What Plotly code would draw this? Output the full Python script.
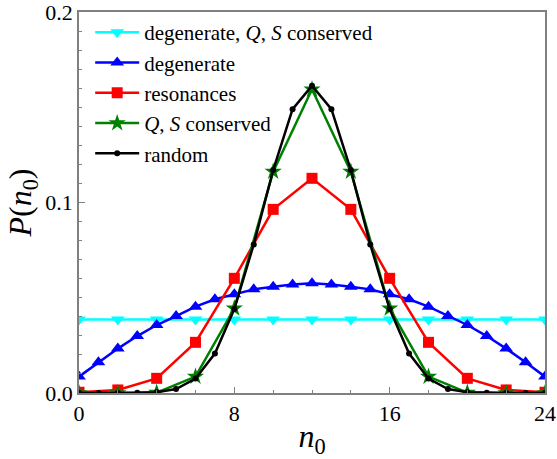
import plotly.graph_objects as go

n_every1 = list(range(0, 25))
n_every2 = list(range(0, 25, 2))

cyan_vals = [0.0386] * 13
blue_vals = [0.0086, 0.0161, 0.0233, 0.0299, 0.0357, 0.0404, 0.0453, 0.0492, 0.0518, 0.0544, 0.0558, 0.0570, 0.0576,
             0.0570, 0.0558, 0.0544, 0.0518, 0.0492, 0.0453, 0.0404, 0.0357, 0.0299, 0.0233, 0.0161, 0.0086]
red_vals = [0.0004, 0.0016, 0.0077, 0.0266, 0.0602, 0.0964, 0.1127, 0.0964, 0.0602, 0.0266, 0.0077, 0.0016, 0.0004]
green_vals = [0.0000, 0.0000, 0.0002, 0.0086, 0.0444, 0.1162, 0.1594, 0.1162, 0.0444, 0.0086, 0.0002, 0.0000, 0.0000]
black_vals = [0.0000, 0.0000, 0.0000, 0.0001, 0.0004, 0.0021, 0.0076, 0.0207, 0.0441, 0.0780, 0.1170, 0.1490, 0.1613,
              0.1490, 0.1170, 0.0780, 0.0441, 0.0207, 0.0076, 0.0021, 0.0004, 0.0001, 0.0000, 0.0000, 0.0000]

names = ["degenerate, <i>Q</i>, <i>S</i> conserved", "degenerate", "resonances",
         "<i>Q</i>, <i>S</i> conserved", "random"]

fig = go.Figure()
specs = [
    (n_every2, cyan_vals, "#00FFFF", "triangle-down", 12),
    (n_every1, blue_vals, "#0000FF", "triangle-up", 12),
    (n_every2, red_vals, "#FF0000", "square", 11),
    (n_every2, green_vals, "#008000", "star", 13),
    (n_every1, black_vals, "#000000", "circle", 6),
]
for (x, y, c, sym, sz), nm in zip(specs, names):
    fig.add_trace(go.Scatter(x=x, y=y, mode="lines+markers", name=nm,
                             line=dict(color=c, width=2.5),
                             marker=dict(color=c, symbol=sym, size=sz, line=dict(width=0))))

font = "Times New Roman, Liberation Serif, serif"
axis_common = dict(showline=True, linecolor="#808080", linewidth=1.5, mirror=True,
                   ticks="inside", tickcolor="#808080", ticklen=6, tickwidth=1, automargin=False,
                   ticklabeloverflow="allow",
                   showgrid=False, zeroline=False, tickfont=dict(size=22, color="black", family=font))
fig.update_xaxes(range=[0, 24], tickvals=[0, 8, 16, 24],
                 minor=dict(dtick=2, ticks="inside", ticklen=3, tickcolor="#808080"),
                 title=dict(text="<i>n</i><sub>0</sub>", font=dict(size=32, family=font), standoff=0),
                 **axis_common)
fig.update_yaxes(range=[0, 0.2], tickvals=[0, 0.1, 0.2], tickformat=".1f",
                 minor=dict(dtick=0.01, ticks="inside", ticklen=3, tickcolor="#808080"),
                 title=dict(text="<i>P</i>(<i>n</i><sub>0</sub>)", font=dict(size=32, family=font), standoff=4),
                 **axis_common)
fig.update_layout(width=557, height=459, margin=dict(l=79, r=12, t=12, b=66, autoexpand=False),
                  plot_bgcolor="white", paper_bgcolor="white",
                  font=dict(family=font, color="black"),
                  legend=dict(x=0.024, y=1.0, xanchor="left", yanchor="top",
                              bgcolor="rgba(0,0,0,0)", font=dict(size=21, family=font),
                              tracegroupgap=0, itemwidth=44))
fig.write_html("out.html", config={"displayModeBar": False},
               post_script="document.body.style.margin='0';")
